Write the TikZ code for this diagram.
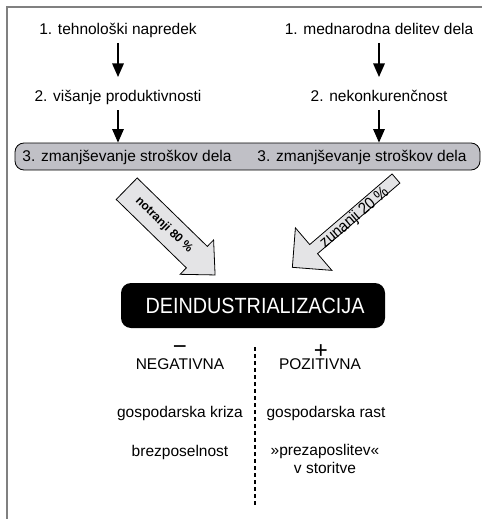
\documentclass[tikz,border=0pt]{standalone}
\usepackage{fontspec}
\setmainfont{Liberation Sans}
\newfontfamily\uzkafont[FakeStretch=0.9]{Liberation Sans}
\usetikzlibrary{arrows.meta, positioning, calc}
\definecolor{okvirsiva}{RGB}{128,128,128}
\definecolor{pasivsiva}{RGB}{192,192,198}
\definecolor{puscicasiva}{RGB}{228,228,230}

\begin{document}
\begin{tikzpicture}[x=1pt, y=1pt,
    every node/.style={inner sep=0pt, font=\fontsize{15.5}{18}\selectfont},
    korak/.style={-{Triangle[width=11.5pt,length=13.5pt]}, line width=1.4pt},
    velika/.style={draw=black, line width=0.8pt, fill=puscicasiva, line join=miter},
    znak/.style={anchor=base, font=\fontsize{24}{24}\selectfont}]
    \useasboundingbox (0,0) rectangle (482,-519);

    % okvir
    \draw[okvirsiva, line width=1.6pt] (7,-519) -- (7,-7) -- (482,-7);

    % vzroki
    \node[anchor=base] (tehno) at (118,-35) {1. tehnološki napredek};
    \node[anchor=base] (mednar) at (379,-35) {1. mednarodna delitev dela};
    \node[anchor=base] (visanje) at (118,-101) {2. višanje produktivnosti};
    \node[anchor=base] (nekonk) at (379,-101) {2. nekonkurenčnost};

    \node[draw, line width=0.8pt, fill=pasivsiva, rounded corners=9pt, minimum width=465, minimum height=27] (pas) at (247.5,-156.5) {};
    \node[anchor=base] (strL) at (127,-161.5) {3. zmanjševanje stroškov dela};
    \node[anchor=base] (strR) at (362,-161.5) {3. zmanjševanje stroškov dela};

    \draw[korak] ([yshift=-8]tehno.base) -- ([yshift=24]visanje.base);
    \draw[korak] ([yshift=-8]mednar.base) -- ([yshift=24]nekonk.base);
    \draw[korak] ([yshift=-9]visanje.base) -- (visanje |- pas.north);
    \draw[korak] ([yshift=-9]nekonk.base) -- (nekonk |- pas.north);

    % notranji in zunanji vzroki
    \begin{scope}[shift={(126.7,-188.7)}, rotate=-44.3]
        \draw[velika] (0,15) -- (98,15) -- (98,24) -- (123.5,0) -- (98,-24) -- (98,-15) -- (0,-15) -- cycle;
        \node[transform shape, font=\bfseries\fontsize{12}{12}\selectfont] (notr) at (52,0) {notranji 80 \%};
    \end{scope}
    \begin{scope}[shift={(396,-178.5)}, rotate=220.6]
        \draw[velika] (0,6) -- (108.5,6) -- (108.5,28) -- (136.5,0) -- (108.5,-28) -- (108.5,-6) -- (0,-6) -- cycle;
        \node[transform shape, rotate=180, font=\uzkafont\fontsize{16.5}{16.5}\selectfont] (zun) at (57,3) {zunanji 20 \%};
    \end{scope}

    \node[fill=black, text=white, rounded corners=10pt, minimum width=264, minimum height=45,
        font=\uzkafont\fontsize{22}{24}\selectfont] (deind) at (253,-305.5) {\hspace{4pt}DEINDUSTRIALIZACIJA};

    % posledice
    \node[znak] (minus) at (180,-354.5) {−};
    \node[znak] (plus) at (321,-358) {+};
    \node[anchor=base] (neg) at (180,-369.5) {NEGATIVNA};
    \node[anchor=base] (poz) at (320,-369.5) {POZITIVNA};
    \draw[line width=2pt, dash pattern=on 4pt off 3pt] (255,-347) -- (255,-507);

    \node[anchor=base] (kriza) at (180,-417) {gospodarska kriza};
    \node[anchor=base] (rast) at (326,-417) {gospodarska rast};
    \node[anchor=base] (brezp) at (180,-456) {brezposelnost};
    \node[anchor=north, align=center] (prezap) at (325,-444) {»prezaposlitev«\\v storitve};
\end{tikzpicture}
\end{document}
